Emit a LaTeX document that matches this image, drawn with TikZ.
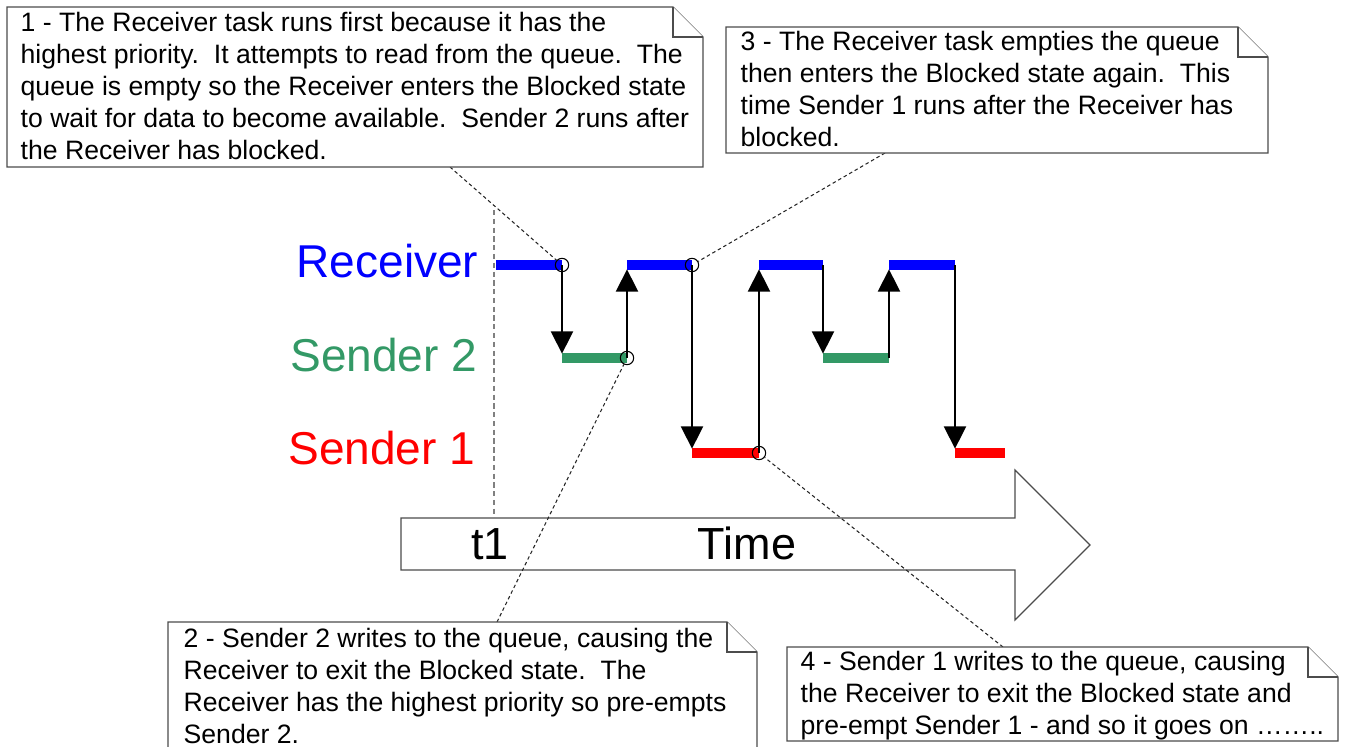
\documentclass[tikz,border=0pt]{standalone}
\usepackage{fontspec}
\setmainfont{Liberation Sans}
\usetikzlibrary{arrows.meta}
\definecolor{rcvblue}{RGB}{0,0,255}
\definecolor{sndgreen}{RGB}{51,153,102}
\definecolor{sndred}{RGB}{255,0,0}

\begin{document}
\begin{tikzpicture}[
					x=0.1mm,y=-0.1mm,
					lvl/.style={font=\fontsize{13.1pt}{15pt}\selectfont,anchor=base east,inner sep=0pt},
					notetext/.style={font=\fontsize{7.57pt}{9.1pt}\selectfont,anchor=base west,align=left,inner sep=0pt},
					notebox/.style={draw=black!70,fill=white,line width=0.35pt},
					bar/.style={line width=2.6pt},
					sw/.style={draw,line width=0.8pt,shorten >=1.2pt,-{Triangle[length=6.4pt,width=6.2pt]}},
					ring/.style={circle,draw,inner sep=0pt,minimum size=3.8pt,line width=0.3pt},
					lead/.style={draw=black!85,line width=0.3pt,dash pattern=on 1pt off 0.8pt}
					]
					\useasboundingbox (0,0) rectangle (1346,747);
					% t1 marker and time axis
					\draw[gray,line width=0.6pt,dash pattern=on 1.5pt off 1pt] (494,210) -- (494,518);
					\draw[notebox] (401,518) -- (1015,518) -- (1015,470) -- (1090,545) -- (1015,620) -- (1015,570) -- (401,570) -- cycle;
					\node[font=\fontsize{12.8pt}{15pt}\selectfont,anchor=base,inner sep=0pt] (tone) at (490,559) {t1};
					\node[font=\fontsize{12.8pt}{15pt}\selectfont,anchor=base,inner sep=0pt] (time) at (747,559) {Time};
					% task levels
					\node[lvl,text=rcvblue] (rcv) at (479,277) {Receiver};
					\node[lvl,text=sndgreen] (snd2) at (478,371) {Sender 2};
					\node[lvl,text=sndred] (snd1) at (476,464) {Sender 1};
					% running slots
					\foreach \k/\xa/\xb/\ly/\c in {0/496/562/265/rcvblue,1/562/627/358/sndgreen,2/627/692/265/rcvblue,3/692/759/453/sndred,
						4/759/823/265/rcvblue,5/823/889/358/sndgreen,6/889/955/265/rcvblue,7/955/1005/453/sndred}{
						\coordinate (s\k) at (\xa,\ly);
						\coordinate (e\k) at (\xb,\ly);
						\draw[bar,draw=\c] (s\k) -- (e\k);
					}
					\foreach \k/\n in {0/1,1/2,2/3,3/4,4/5,5/6,6/7}{
						\draw[sw] (e\k) -- (s\n);
					}
					\foreach \i/\k in {1/0,2/1,3/2,4/3}{
						\node[ring] (c\i) at (e\k) {};
					}
					% callouts
					\coordinate (t1) at (450,167);
					\coordinate (t2) at (497,622);
					\coordinate (t3) at (885,153);
					\coordinate (t4) at (1003,647);
					\foreach \i in {1,...,4}{
						\draw[lead] (t\i) -- (c\i);
					}
					\foreach \xa/\ya/\xb/\yb in {7/7/703/167,168/622/757/760,726/27/1268/153,787/647/1338/741}{
						\draw[notebox] (\xa,\ya) -- (\xb-30,\ya) -- (\xb,\ya+30) -- (\xb,\yb) -- (\xa,\yb) -- cycle;
						\draw[notebox] (\xb-30,\ya) -- (\xb-30,\ya+30) -- (\xb,\ya+30);
					}
					% anchored at the baseline of the last line
					\node[notetext] (note1) at (20,159) {1 - The Receiver task runs first because it has the\\highest priority.\ \ It attempts to read from the queue.\ \ The\\queue is empty so the Receiver enters the Blocked state\\to wait for data to become available.\ \ Sender 2 runs after\\the Receiver has blocked.};
					\node[notetext] (note2) at (183,743) {2 - Sender 2 writes to the queue, causing the\\Receiver to exit the Blocked state.\ \ The\\Receiver has the highest priority so pre-empts\\Sender 2.};
					\node[notetext] (note3) at (740,146) {3 - The Receiver task empties the queue\\then enters the Blocked state again.\ \ This\\time Sender 1 runs after the Receiver has\\blocked.};
					\node[notetext] (note4) at (800,734) {4 - Sender 1 writes to the queue, causing\\the Receiver to exit the Blocked state and\\pre-empt Sender 1 - and so it goes on \dots\dots..};
				\end{tikzpicture}
\end{document}
